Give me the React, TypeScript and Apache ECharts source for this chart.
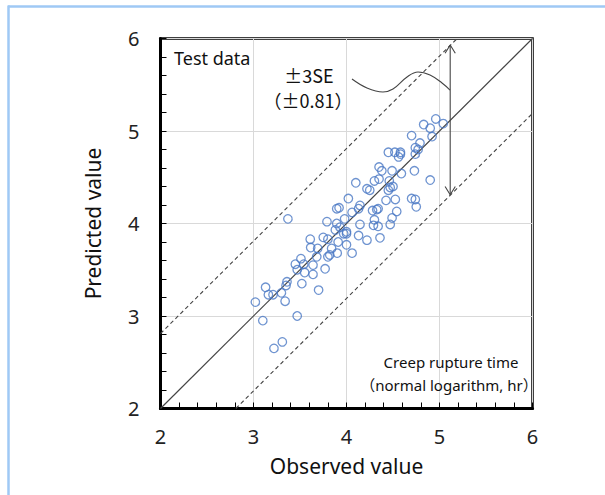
import React, { useEffect, useRef } from "react";
import * as echarts from "echarts";

// Observed (x) and predicted (y) values of the test data
const observedValues = [
  3.37, 3.895, 3.92, 3.79, 3.98, 3.93, 3.88, 4.0, 3.75, 3.8, 3.61, 3.615, 3.69, 3.84, 3.91, 4.0, 3.9, 3.8, 3.82,
  3.51, 3.45, 3.54, 3.47, 3.55, 3.64, 3.64, 3.77, 3.68, 3.52, 3.36, 3.35, 3.13, 3.16, 3.21, 3.3, 3.34, 3.02, 3.7,
  3.47, 3.1, 3.22, 3.31,
  4.96, 5.04, 4.83, 4.9, 4.7, 4.92, 4.79, 4.74, 4.77, 4.45, 4.52, 4.58, 4.56, 4.58, 4.74, 4.35, 4.38, 4.49, 4.59,
  4.73, 4.9, 4.1, 4.22, 4.25, 4.3, 4.35, 4.46, 4.47, 4.5, 4.45, 4.525, 4.425, 4.325, 4.28, 4.34, 4.145, 4.13, 4.02,
  4.7, 4.74, 4.75, 4.54, 4.49, 4.3, 4.06, 4.145, 4.29, 4.47, 4.34, 3.895, 3.97, 4.0, 4.13, 4.22, 4.36, 4.06,
];
const predictedValues = [
  4.05, 4.16, 4.17, 4.02, 4.05, 3.96, 3.93, 3.91, 3.85, 3.83, 3.83, 3.74, 3.73, 3.73, 3.8, 3.77, 3.68, 3.64, 3.66,
  3.62, 3.56, 3.56, 3.5, 3.47, 3.55, 3.45, 3.51, 3.64, 3.35, 3.37, 3.33, 3.31, 3.23, 3.23, 3.25, 3.16, 3.15, 3.28,
  3.0, 2.95, 2.65, 2.72,
  5.13, 5.08, 5.07, 5.03, 4.95, 4.94, 4.87, 4.82, 4.8, 4.77, 4.77, 4.77, 4.72, 4.75, 4.75, 4.61, 4.57, 4.57, 4.54,
  4.57, 4.47, 4.44, 4.375, 4.36, 4.46, 4.48, 4.46, 4.39, 4.4, 4.36, 4.26, 4.25, 4.15, 4.14, 4.16, 4.195, 4.16, 4.27,
  4.27, 4.26, 4.18, 4.13, 4.06, 4.04, 4.12, 3.99, 3.98, 3.99, 3.97, 4.0, 3.89, 3.89, 3.87, 3.82, 3.845, 3.68,
];

// Reference lines
const se3 = 0.81;
const lineStart = 2;
const lineEnd = 6;

// Range arrow (±3SE) position and callout curve points
const arrowX = 5.115;
const arrowTop = 5.93;
const arrowBottom = 4.31;
const calloutX = [4.059, 4.22, 4.392, 4.5, 4.651, 4.769, 4.898, 5.027, 5.113];
const calloutY = [5.562, 5.465, 5.422, 5.454, 5.584, 5.638, 5.605, 5.519, 5.443];

const FONT = '"Noto Sans", "Noto Sans CJK JP", sans-serif';
const CJK = '"Noto Sans CJK JP", "Noto Sans", sans-serif';

export default function App() {
  const ref = useRef<HTMLDivElement>(null);

  useEffect(() => {
    document.body.style.margin = "0";
    const chart = echarts.init(ref.current!, null, { renderer: "svg" });

    const points = observedValues.map((x, i) => [x, predictedValues[i]]);
    const lineStyleBase = { color: "#444", width: 1.1 };
    const ah = 0.055;
    const av = 0.09;

    chart.setOption({
      animation: false,
      backgroundColor: "#fff",
      grid: {
        left: 160.5,
        right: 72.5,
        top: 38.5,
        bottom: 86.5,
        show: true,
        borderColor: "#000",
        borderWidth: 2.5,
        backgroundColor: "#fff",
      },
      xAxis: {
        type: "value",
        min: 2,
        max: 6,
        interval: 1,
        name: "Observed value",
        nameLocation: "middle",
        nameGap: 47,
        nameTextStyle: { fontSize: 21, color: "#111", fontFamily: FONT },
        axisLine: { show: true, lineStyle: { color: "#000", width: 3 } },
        axisTick: { show: true, inside: true, length: 6, lineStyle: { color: "#000", width: 1 } },
        minorTick: { show: true, splitNumber: 5, length: 6, lineStyle: { color: "#000", width: 1 } },
        splitLine: { show: true, lineStyle: { color: "#d9d9d9", width: 1 } },
        axisLabel: { fontSize: 20, color: "#222", margin: 18, fontFamily: FONT },
      },
      yAxis: {
        type: "value",
        min: 2,
        max: 6,
        interval: 1,
        name: "Predicted value",
        nameLocation: "middle",
        nameGap: 57,
        nameTextStyle: { fontSize: 21, color: "#111", fontFamily: FONT },
        axisLine: { show: true, lineStyle: { color: "#000", width: 3 } },
        axisTick: { show: true, inside: true, length: 6, lineStyle: { color: "#000", width: 1 } },
        minorTick: { show: true, splitNumber: 5, length: 6, lineStyle: { color: "#000", width: 1 } },
        splitLine: { show: true, lineStyle: { color: "#d9d9d9", width: 1 } },
        axisLabel: { fontSize: 20, color: "#222", margin: 21, fontFamily: FONT },
      },
      series: [
        {
          type: "line",
          data: [
            [lineStart, lineStart],
            [lineEnd, lineEnd],
          ],
          symbol: "none",
          lineStyle: { ...lineStyleBase, width: 1.2 },
          z: 3,
        },
        {
          type: "line",
          data: [
            [lineStart, lineStart + se3],
            [lineEnd - se3, lineEnd],
          ],
          symbol: "none",
          lineStyle: { ...lineStyleBase, type: [4, 3] },
          z: 3,
        },
        {
          type: "line",
          data: [
            [lineStart + se3, lineStart],
            [lineEnd, lineEnd - se3],
          ],
          symbol: "none",
          lineStyle: { ...lineStyleBase, type: [4, 3] },
          z: 3,
        },
        {
          type: "line",
          data: [
            [arrowX, arrowBottom],
            [arrowX, arrowTop],
          ],
          symbol: "none",
          lineStyle: { ...lineStyleBase },
          z: 4,
        },
        {
          type: "line",
          data: [
            [arrowX - ah, arrowTop - av],
            [arrowX, arrowTop],
            [arrowX + ah, arrowTop - av],
          ],
          symbol: "none",
          lineStyle: { ...lineStyleBase },
          z: 4,
        },
        {
          type: "line",
          data: [
            [arrowX - ah, arrowBottom + av],
            [arrowX, arrowBottom],
            [arrowX + ah, arrowBottom + av],
          ],
          symbol: "none",
          lineStyle: { ...lineStyleBase },
          z: 4,
        },
        {
          type: "line",
          data: calloutX.map((x, i) => [x, calloutY[i]]),
          symbol: "none",
          smooth: 0.4,
          lineStyle: { ...lineStyleBase },
          z: 4,
        },
        {
          type: "scatter",
          data: points,
          symbol: "circle",
          symbolSize: 8.5,
          itemStyle: { color: "rgba(255,255,255,0)", borderColor: "#4a78c4", borderWidth: 1.3 },
          z: 5,
        },
      ],
      graphic: [
        {
          type: "line",
          shape: { x1: 8, y1: 6.5, x2: 605, y2: 6.5 },
          style: { stroke: "#9fc9f5", lineWidth: 2.5 },
        },
        {
          type: "line",
          shape: { x1: 8.5, y1: 5.5, x2: 8.5, y2: 495 },
          style: { stroke: "#9fc9f5", lineWidth: 2.5 },
        },
        {
          type: "text",
          x: 174,
          y: 58,
          z: 10,
          style: { text: "Test data", font: `18px ${FONT}`, fill: "#111", verticalAlign: "middle" },
        },
        {
          type: "text",
          x: 309,
          y: 75,
          z: 10,
          style: { text: "±3SE", font: `18px ${CJK}`, fill: "#111", align: "center", verticalAlign: "middle" },
        },
        {
          type: "text",
          x: 308,
          y: 100,
          z: 10,
          style: { text: "（±0.81）", font: `18px ${CJK}`, fill: "#111", align: "center", verticalAlign: "middle" },
        },
        {
          type: "text",
          x: 451,
          y: 362,
          z: 10,
          style: { text: "Creep rupture time", font: `15px ${FONT}`, fill: "#111", align: "center", verticalAlign: "middle" },
        },
        {
          type: "text",
          x: 449,
          y: 385,
          z: 10,
          style: { text: "（normal logarithm, hr）", font: `15px ${FONT}`, fill: "#111", align: "center", verticalAlign: "middle" },
        },
      ],
    });

    return () => chart.dispose();
  }, []);

  return <div ref={ref} style={{ width: 605, height: 495 }} />;
}
